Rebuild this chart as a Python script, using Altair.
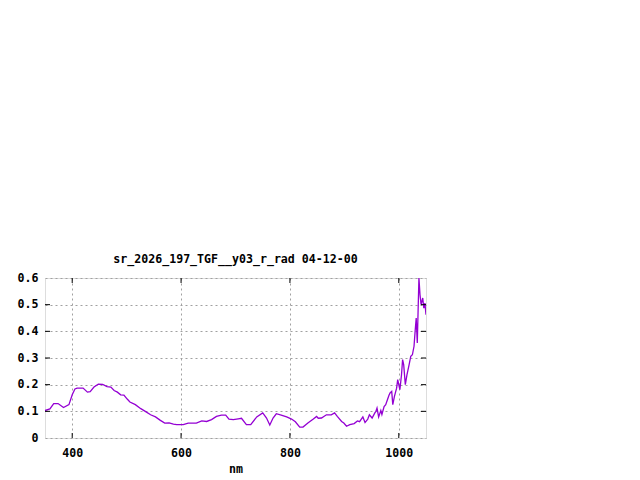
import altair as alt
import pandas as pd

# wavelength (nm) and reflectance
wavelength = [350, 359, 366, 374, 384, 394, 400, 405, 409, 420, 428, 433, 440, 448, 456,
              464, 471, 477, 483, 489, 495, 501, 506, 516, 526, 535, 544, 553, 562, 570,
              578, 586, 592, 604, 613, 628, 638, 647, 656, 665, 674, 682, 688, 696, 705,
              711, 720, 728, 739, 750, 757, 763, 769, 775, 784, 794, 803, 810, 818, 824,
              833, 843, 849, 852, 858, 867, 876, 882, 887, 895, 899, 904, 910, 918, 924,
              928, 934, 938, 943, 946, 951, 956, 958, 960, 963, 967, 969, 973, 976, 978,
              982, 984, 987, 989, 992, 996, 998, 1002, 1005, 1007, 1009, 1012, 1015, 1019,
              1022, 1025, 1028, 1030, 1032, 1034, 1037, 1039, 1041, 1044, 1046, 1048, 1050]
reflectance = [0.103, 0.109, 0.129, 0.129, 0.114, 0.125, 0.162, 0.184, 0.187, 0.187, 0.172,
               0.174, 0.191, 0.202, 0.201, 0.193, 0.191, 0.178, 0.172, 0.162, 0.161, 0.146,
               0.135, 0.125, 0.110, 0.099, 0.087, 0.079, 0.066, 0.056, 0.057, 0.052, 0.050,
               0.050, 0.056, 0.056, 0.064, 0.062, 0.069, 0.081, 0.086, 0.086, 0.071, 0.069,
               0.072, 0.074, 0.050, 0.050, 0.079, 0.094, 0.075, 0.049, 0.075, 0.091, 0.086,
               0.079, 0.071, 0.061, 0.041, 0.041, 0.056, 0.071, 0.081, 0.074, 0.075, 0.087,
               0.087, 0.094, 0.081, 0.062, 0.056, 0.044, 0.050, 0.054, 0.064, 0.061, 0.079,
               0.058, 0.071, 0.087, 0.075, 0.094, 0.100, 0.112, 0.079, 0.103, 0.088, 0.118,
               0.125, 0.137, 0.160, 0.169, 0.175, 0.125, 0.156, 0.187, 0.219, 0.181, 0.237,
               0.294, 0.275, 0.200, 0.237, 0.275, 0.306, 0.312, 0.344, 0.400, 0.450, 0.356,
               0.600, 0.537, 0.500, 0.525, 0.487, 0.506, 0.462]

x_ticks = [400, 600, 800, 1000]
y_ticks = [0.0, 0.1, 0.2, 0.3, 0.4, 0.5, 0.6]
title_text = "sr_2026_197_TGF__y03_r_rad 04-12-00"
x_title = "nm"

W, H = 381, 160
FONT = "DejaVu Sans Mono"
FS = 11.6

df = pd.DataFrame({"nm": wavelength, "r": reflectance})
xt = pd.DataFrame({"t": x_ticks})
yt = pd.DataFrame({"t": y_ticks[1:-1]})

xscale = alt.Scale(domain=[350, 1050], nice=False, zero=False)
yscale = alt.Scale(domain=[0, 0.6], nice=False)

xaxis = alt.Axis(values=x_ticks, grid=True, gridDash=[2, 3], gridColor="#a0a0a0",
                 domain=False, ticks=False, labelPadding=9, labelFont=FONT,
                 labelFontSize=FS, labelFontWeight="bold", labelColor="black",
                 format="d", labelOverlap=False,
                 title=x_title, titleFont=FONT, titleFontSize=FS, titleFontWeight="bold",
                 titleColor="black", titlePadding=5)
yaxis = alt.Axis(values=y_ticks, grid=True, gridDash=[2, 3], gridColor="#a0a0a0",
                 domain=False, ticks=False, labelPadding=7, labelFont=FONT,
                 labelFontSize=FS, labelFontWeight="bold", labelColor="black",
                 labelOverlap=False,
                 labelExpr="datum.value == 0 ? '0' : format(datum.value, '.1f')",
                 title="")

line = alt.Chart(df).mark_line(color="#9400D3", strokeWidth=1.3, clip=True).encode(
    x=alt.X("nm:Q", scale=xscale, axis=xaxis),
    y=alt.Y("r:Q", scale=yscale, axis=yaxis),
)

tick_b = alt.Chart(xt).mark_rule(color="black").encode(
    x=alt.X("t:Q", scale=xscale, axis=xaxis), y=alt.value(H), y2=alt.value(H - 5))
tick_t = alt.Chart(xt).mark_rule(color="black").encode(
    x=alt.X("t:Q", scale=xscale, axis=xaxis), y=alt.value(0), y2=alt.value(5))
tick_l = alt.Chart(yt).mark_rule(color="black").encode(
    y=alt.Y("t:Q", scale=yscale, axis=yaxis), x=alt.value(0), x2=alt.value(5))
tick_r = alt.Chart(yt).mark_rule(color="black").encode(
    y=alt.Y("t:Q", scale=yscale, axis=yaxis), x=alt.value(W), x2=alt.value(W - 5))

chart = alt.layer(line, tick_b, tick_t, tick_l, tick_r).properties(
    width=W, height=H,
    title=alt.TitleParams(title_text, font=FONT, fontSize=FS, fontWeight="bold",
                          color="black", offset=6, anchor="middle"),
    autosize=alt.AutoSizeParams(type="none"),
    padding={"left": 37, "top": 270, "right": 10, "bottom": 42},
).configure_view(stroke="black", strokeWidth=1).configure(background="white")

chart.save("out.html", embed_options={"renderer": "svg", "actions": False})
